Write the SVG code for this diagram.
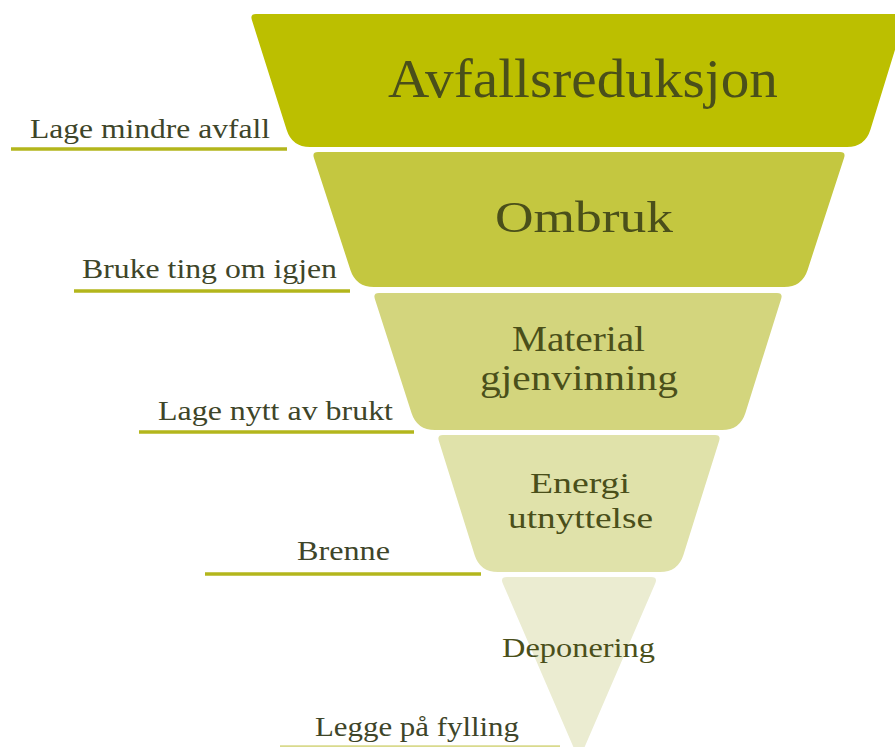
<svg xmlns="http://www.w3.org/2000/svg" width="895" height="747" viewBox="0 0 895 747">
<style>
.t{font-family:"Liberation Serif","DejaVu Serif",Georgia,serif;fill:#4a4f1a}
.l{font-family:"Liberation Serif","DejaVu Serif",Georgia,serif;fill:#3e4529;font-size:27px}
.u{stroke:#b3b61c;stroke-width:3.5;fill:none}
</style>
<rect width="895" height="747" fill="#ffffff"/>
<g id="band-avfallsreduksjon">
<path d="M256,14 L900,14 Q906,14 904.2,19.7 L870.4,129.8 Q865,147 847,147 L310,147 Q292,147 286.6,129.8 L251.8,19.7 Q250,14 256,14 Z" fill="#bcbf00"/>
<text class="t" x="388" y="97" font-size="54" textLength="390" lengthAdjust="spacingAndGlyphs">Avfallsreduksjon</text>
</g>
<g id="band-ombruk">
<path d="M318,152 L840,152 Q846,152 844.1,157.7 L807.6,269.9 Q802,287 784,287 L374,287 Q356,287 350.4,269.9 L313.9,157.7 Q312,152 318,152 Z" fill="#c4c740"/>
<text class="t" x="495" y="232" font-size="44" textLength="178" lengthAdjust="spacingAndGlyphs">Ombruk</text>
</g>
<g id="band-material">
<path d="M379,293 L777,293 Q783,293 781.2,298.7 L745.4,412.9 Q740,430 722,430 L435,430 Q417,430 411.5,412.9 L374.8,298.7 Q373,293 379,293 Z" fill="#d3d57d"/>
<text class="t" x="512" y="351" font-size="35" textLength="133" lengthAdjust="spacingAndGlyphs">Material</text>
<text class="t" x="480" y="390" font-size="35" textLength="198" lengthAdjust="spacingAndGlyphs">gjenvinning</text>
</g>
<g id="band-energi">
<path d="M443,435 L715,435 Q721,435 719.2,440.7 L683.4,554.9 Q678,572 660,572 L498,572 Q480,572 474.6,554.9 L438.8,440.7 Q437,435 443,435 Z" fill="#e0e2aa"/>
<text class="t" x="530" y="493" font-size="30" textLength="100" lengthAdjust="spacingAndGlyphs">Energi</text>
<text class="t" x="508" y="528" font-size="30" textLength="145" lengthAdjust="spacingAndGlyphs">utnyttelse</text>
</g>
<g id="band-deponering">
<path d="M507,577 L651,577 Q658,577 655.2,583.4 L579,760 L502.8,583.4 Q500,577 507,577 Z" fill="#ebecd1"/>
<text class="t" x="502" y="657" font-size="28" textLength="153" lengthAdjust="spacingAndGlyphs">Deponering</text>
</g>
<g id="connectors">
<line class="u" x1="11" y1="149" x2="287" y2="149"/>
<line class="u" x1="74" y1="291" x2="350" y2="291"/>
<line class="u" x1="139" y1="432" x2="414" y2="432"/>
<line class="u" x1="205" y1="574" x2="481" y2="574"/>
<line class="u" x1="280" y1="747" x2="560" y2="747" stroke-opacity="0.5"/>
</g>
<g id="label-lage-mindre-avfall"><text class="l" x="30" y="138" textLength="240" lengthAdjust="spacingAndGlyphs">Lage mindre avfall</text></g>
<g id="label-bruke-ting"><text class="l" x="82" y="278" textLength="255" lengthAdjust="spacingAndGlyphs">Bruke ting om igjen</text></g>
<g id="label-lage-nytt"><text class="l" x="158" y="420" textLength="235" lengthAdjust="spacingAndGlyphs">Lage nytt av brukt</text></g>
<g id="label-brenne"><text class="l" x="297" y="560" textLength="93" lengthAdjust="spacingAndGlyphs">Brenne</text></g>
<g id="label-legge"><text class="l" x="315" y="736" textLength="204" lengthAdjust="spacingAndGlyphs">Legge på fylling</text></g>
</svg>
